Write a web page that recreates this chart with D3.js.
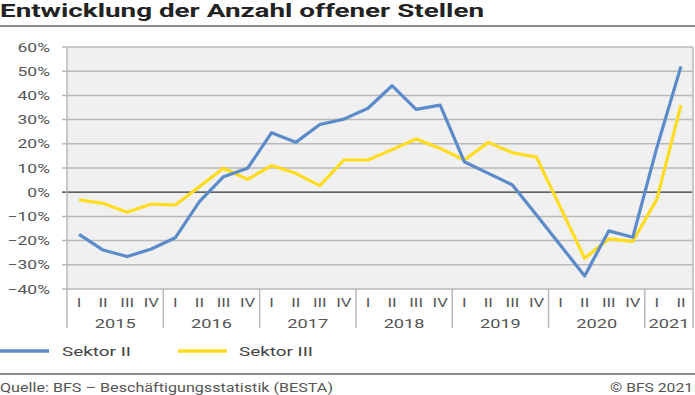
<!DOCTYPE html>
<html>
<head>
<meta charset="utf-8">
<script src="https://cdn.jsdelivr.net/npm/d3@7"></script>
<style>
  body { margin: 0; background: #fff; }
  text { font-family: Roboto, "Noto Sans", sans-serif; }
</style>
</head>
<body>
<div id="chart"></div>
<script>
var width = 695, height = 395;

var years = ["2015", "2016", "2017", "2018", "2019", "2020", "2021"];
var quarterNames = ["I", "II", "III", "IV"];
// quarters 2015 I .. 2021 II
var quarters = [];
years.forEach(function(y) {
  quarterNames.forEach(function(q) {
    if (!(y === "2021" && (q === "III" || q === "IV"))) quarters.push(y + " " + q);
  });
});

var sektor2 = [-17.4, -23.9, -26.6, -23.5, -18.8, -3.9, 6.4, 9.9, 24.6, 20.6, 28.0, 30.2, 34.7,
               44.0, 34.2, 36.0, 12.6, 7.8, 3.0, -9.4, -22.0, -34.6, -16.0, -18.6, 18.5, 52.0];
var sektor3 = [-3.2, -4.6, -8.3, -4.9, -5.3, 2.3, 9.9, 5.3, 11.0, 7.8, 2.7, 13.3, 13.3,
               17.6, 22.0, 18.1, 13.3, 20.6, 16.3, 14.5, -6.5, -27.3, -19.3, -20.3, -2.9, 36.0];
var yTicks = [60, 50, 40, 30, 20, 10, 0, -10, -20, -30, -40];

var sx = 1.4; // horizontal stretch of the text in the original

var svg = d3.select("#chart").append("svg")
    .attr("width", width)
    .attr("height", height);

function label(x, y, str, opts) {
  opts = opts || {};
  var g = svg.append("g")
    .attr("transform", "translate(" + x + "," + y + ") scale(" + (opts.sx || sx) + ",1)");
  return g.append("text")
    .attr("text-anchor", opts.anchor || "start")
    .attr("font-size", opts.size || 12)
    .attr("font-weight", opts.weight || "normal")
    .attr("fill", opts.fill || "#555")
    .text(str);
}

// title
svg.append("text")
  .attr("x", 0).attr("y", 17)
  .attr("font-size", 18).attr("font-weight", "bold")
  .attr("fill", "#222")
  .attr("textLength", 484).attr("lengthAdjust", "spacingAndGlyphs")
  .text("Entwicklung der Anzahl offener Stellen");
svg.append("line").attr("x1", 0).attr("x2", width).attr("y1", 26).attr("y2", 26)
  .attr("stroke", "#8c8c8c").attr("stroke-width", 2);

var plotLeft = 67, plotRight = 693, plotTop = 47, plotBottom = 289;

var x = d3.scaleBand().domain(quarters).range([plotLeft, plotRight]);
var y = d3.scaleLinear().domain([-40, 60]).range([plotBottom, plotTop]);

svg.append("rect").attr("x", plotLeft).attr("y", plotTop)
  .attr("width", plotRight - plotLeft).attr("height", plotBottom - plotTop)
  .attr("fill", "#f0f0f0");

// gridlines
svg.selectAll(".grid").data(yTicks).enter().append("line")
  .attr("x1", plotLeft - 5).attr("x2", plotRight)
  .attr("y1", d => y(d)).attr("y2", d => y(d))
  .attr("stroke", d => d === 0 ? "#333" : "#b9b9b9")
  .attr("stroke-width", d => d === 0 ? 1.2 : 1.5);

yTicks.forEach(function(t) {
  label(50, y(t) + 4.5, (t < 0 ? "\u2212" + (-t) : t) + "%", {anchor: "end", size: 12.5});
});

// plot border + year separators
svg.append("line").attr("x1", plotRight).attr("x2", plotRight).attr("y1", plotTop).attr("y2", plotBottom)
  .attr("stroke", "#b9b9b9").attr("stroke-width", 1.5);

var bounds = [plotLeft];
years.forEach(function(yr) {
  var qs = quarters.filter(q => q.indexOf(yr) === 0);
  bounds.push(x(qs[qs.length - 1]) + x.bandwidth());
});
svg.selectAll(".sep").data(bounds).enter().append("line")
  .attr("x1", d => d).attr("x2", d => d)
  .attr("y1", (d, i) => (i === 0 ? plotTop : plotBottom)).attr("y2", 328)
  .attr("stroke", "#b9b9b9").attr("stroke-width", 1.5);

quarters.forEach(function(q) {
  label(x(q) + x.bandwidth() / 2, 307, q.split(" ")[1], {anchor: "middle", size: 12});
});
years.forEach(function(yr, i) {
  label((bounds[i] + bounds[i + 1]) / 2, 328, yr, {anchor: "middle", size: 13});
});

// lines
var line = d3.line()
  .x((d, i) => x(quarters[i]) + x.bandwidth() / 2)
  .y(d => y(d));

svg.append("path").datum(sektor3).attr("d", line)
  .attr("fill", "none").attr("stroke", "#ffdc1e").attr("stroke-width", 3.2)
  .attr("stroke-linejoin", "round");
svg.append("path").datum(sektor2).attr("d", line)
  .attr("fill", "none").attr("stroke", "#5b8bc9").attr("stroke-width", 3.2)
  .attr("stroke-linejoin", "round");

// legend
svg.append("line").attr("x1", 0).attr("x2", 49).attr("y1", 351).attr("y2", 351)
  .attr("stroke", "#5b8bc9").attr("stroke-width", 3.5);
svg.append("text").attr("x", 62).attr("y", 356).attr("font-size", 13).attr("fill", "#444")
  .attr("textLength", 69).attr("lengthAdjust", "spacingAndGlyphs").text("Sektor II");
svg.append("line").attr("x1", 178).attr("x2", 227).attr("y1", 351).attr("y2", 351)
  .attr("stroke", "#ffdc1e").attr("stroke-width", 3.5);
svg.append("text").attr("x", 239).attr("y", 356).attr("font-size", 13).attr("fill", "#444")
  .attr("textLength", 74).attr("lengthAdjust", "spacingAndGlyphs").text("Sektor III");

// footer
svg.append("line").attr("x1", 0).attr("x2", width).attr("y1", 374).attr("y2", 374)
  .attr("stroke", "#8c8c8c").attr("stroke-width", 2);
svg.append("text").attr("x", 0).attr("y", 392).attr("font-size", 12).attr("fill", "#555")
  .attr("textLength", 333).attr("lengthAdjust", "spacingAndGlyphs")
  .text("Quelle: BFS \u2013 Beschäftigungsstatistik (BESTA)");
svg.append("text").attr("x", 693).attr("y", 392).attr("font-size", 12).attr("fill", "#555")
  .attr("text-anchor", "end")
  .attr("textLength", 83).attr("lengthAdjust", "spacingAndGlyphs")
  .text("\u00a9 BFS 2021");
</script>
</body>
</html>
